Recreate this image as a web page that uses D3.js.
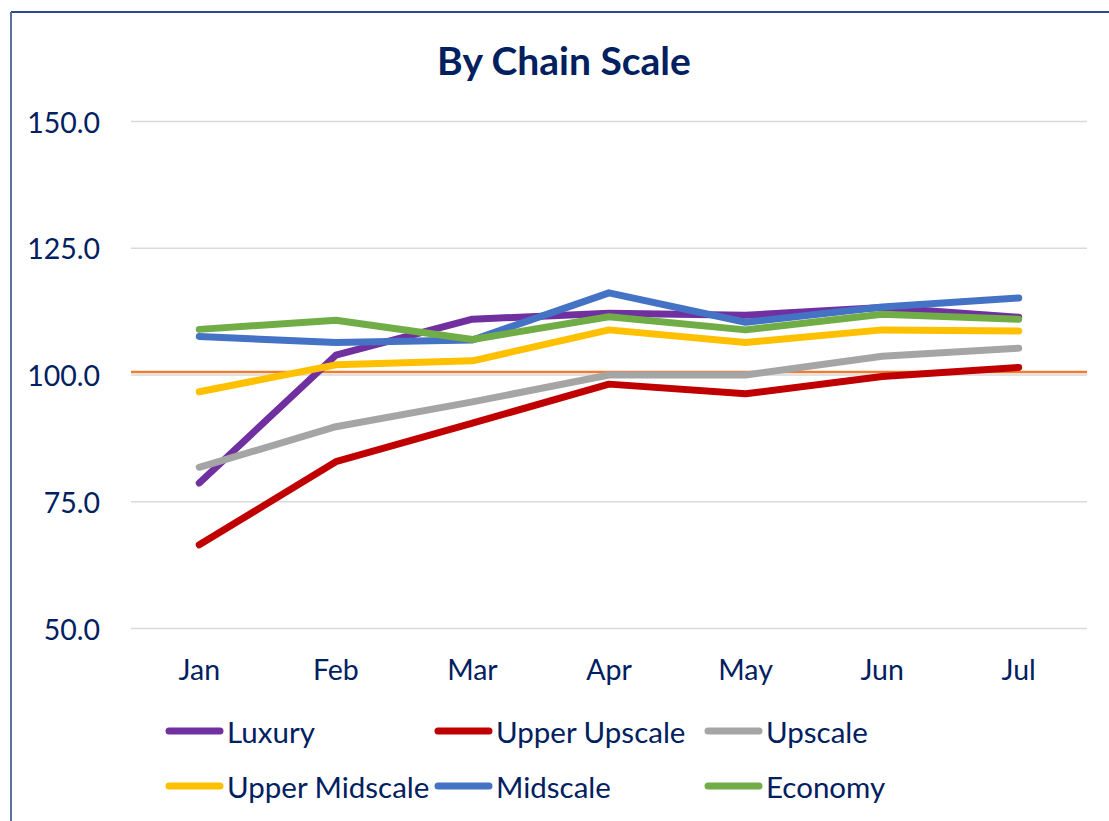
<!DOCTYPE html>
<html>
<head>
<meta charset="utf-8">
<script src="https://cdn.jsdelivr.net/npm/d3@7"></script>
<style>
  html, body { margin: 0; padding: 0; background: #fff; }
  svg { display: block; font-family: Lato, "Noto Sans", sans-serif; }
</style>
</head>
<body>
<svg id="chart" width="1109" height="821"></svg>
<script>
// data
const months = ["Jan", "Feb", "Mar", "Apr", "May", "Jun", "Jul"];
const seriesNames = ["Luxury", "Upper Upscale", "Upscale", "Upper Midscale", "Midscale", "Economy"];
const seriesColors = ["#7030A0", "#C00000", "#A5A5A5", "#FFC000", "#4472C4", "#70AD47"];
const luxury        = [78.6, 103.8, 110.9, 112.1, 111.7, 113.2, 111.3];
const upperUpscale  = [66.4, 82.8, 90.4, 98.1, 96.2, 99.6, 101.4];
const upscale       = [81.7, 89.7, 94.6, 99.9, 99.9, 103.6, 105.2];
const upperMidscale = [96.6, 101.9, 102.7, 108.8, 106.3, 108.8, 108.6];
const midscale      = [107.5, 106.3, 106.8, 116.1, 110.3, 113.3, 115.1];
const economy       = [108.9, 110.7, 106.9, 111.4, 108.8, 111.9, 110.9];
const yTicks = [50, 75, 100, 125, 150];
const baseline = 100.5;

const allSeries = [luxury, upperUpscale, upscale, upperMidscale, midscale, economy];
const textColor = "#002060";

const svg = d3.select("#chart");

// frame
svg.append("line").attr("x1", 11).attr("x2", 1109).attr("y1", 12).attr("y2", 12)
  .attr("stroke", "#2F4A8A").attr("stroke-width", 2);
svg.append("line").attr("x1", 11).attr("x2", 11).attr("y1", 12).attr("y2", 821)
  .attr("stroke", "#5B6F9C").attr("stroke-width", 2);

// title
svg.append("text")
  .attr("x", 564).attr("y", 60)
  .attr("text-anchor", "middle")
  .attr("dominant-baseline", "central")
  .attr("fill", textColor)
  .style("font-size", "39px")
  .style("font-weight", "bold")
  .text("By Chain Scale");

const plotLeft = 131, plotRight = 1087, plotTop = 121, plotBottom = 628;

const x = d3.scaleBand().domain(months).range([plotLeft, plotRight]);
const y = d3.scaleLinear().domain([50, 150]).range([plotBottom, plotTop]);

// y axis + gridlines
const yAxis = svg.append("g")
  .attr("transform", "translate(" + plotLeft + ",0)")
  .call(d3.axisLeft(y).tickValues(yTicks).tickFormat(d3.format(".1f"))
    .tickSize(-(plotRight - plotLeft)).tickPadding(31));
yAxis.select(".domain").remove();
yAxis.selectAll(".tick line").attr("stroke", "#D9D9D9").attr("stroke-width", 1.5);
yAxis.selectAll(".tick text")
  .attr("fill", textColor)
  .attr("dy", null)
  .attr("dominant-baseline", "central")
  .style("font-size", "28.5px")
  .style("font-family", "Lato, 'Noto Sans', sans-serif");

// x axis labels
const xAxis = svg.append("g")
  .attr("transform", "translate(0," + plotBottom + ")")
  .call(d3.axisBottom(x).tickSize(0));
xAxis.select(".domain").remove();
xAxis.selectAll(".tick text")
  .attr("fill", textColor)
  .attr("y", 41)
  .attr("dy", null)
  .attr("dominant-baseline", "central")
  .style("font-size", "28.5px")
  .style("font-family", "Lato, 'Noto Sans', sans-serif");

// 100 reference line
svg.append("line")
  .attr("x1", plotLeft).attr("x2", plotRight)
  .attr("y1", y(baseline)).attr("y2", y(baseline))
  .attr("stroke", "#ED7D31").attr("stroke-width", 2.5);

// series lines
const line = d3.line()
  .x((d, i) => x(months[i]) + x.bandwidth() / 2)
  .y(d => y(d));

svg.selectAll(".series")
  .data(allSeries)
  .enter()
  .append("path")
  .attr("class", "series")
  .attr("d", d => line(d))
  .attr("fill", "none")
  .attr("stroke", (d, i) => seriesColors[i])
  .attr("stroke-width", 7)
  .attr("stroke-linecap", "round")
  .attr("stroke-linejoin", "round");

// legend
const colText = [227, 496, 766];
const rowY = [731, 786];
const legend = svg.append("g");
seriesNames.forEach((name, i) => {
  const c = i % 3, r = Math.floor(i / 3);
  const tx = colText[c];
  legend.append("line")
    .attr("x1", tx - 58).attr("x2", tx - 7)
    .attr("y1", rowY[r]).attr("y2", rowY[r])
    .attr("stroke", seriesColors[i])
    .attr("stroke-width", 7)
    .attr("stroke-linecap", "round");
  legend.append("text")
    .attr("x", tx).attr("y", rowY[r])
    .attr("dominant-baseline", "central")
    .attr("fill", textColor)
    .style("font-size", "29.5px")
    .text(name);
});
</script>
</body>
</html>
